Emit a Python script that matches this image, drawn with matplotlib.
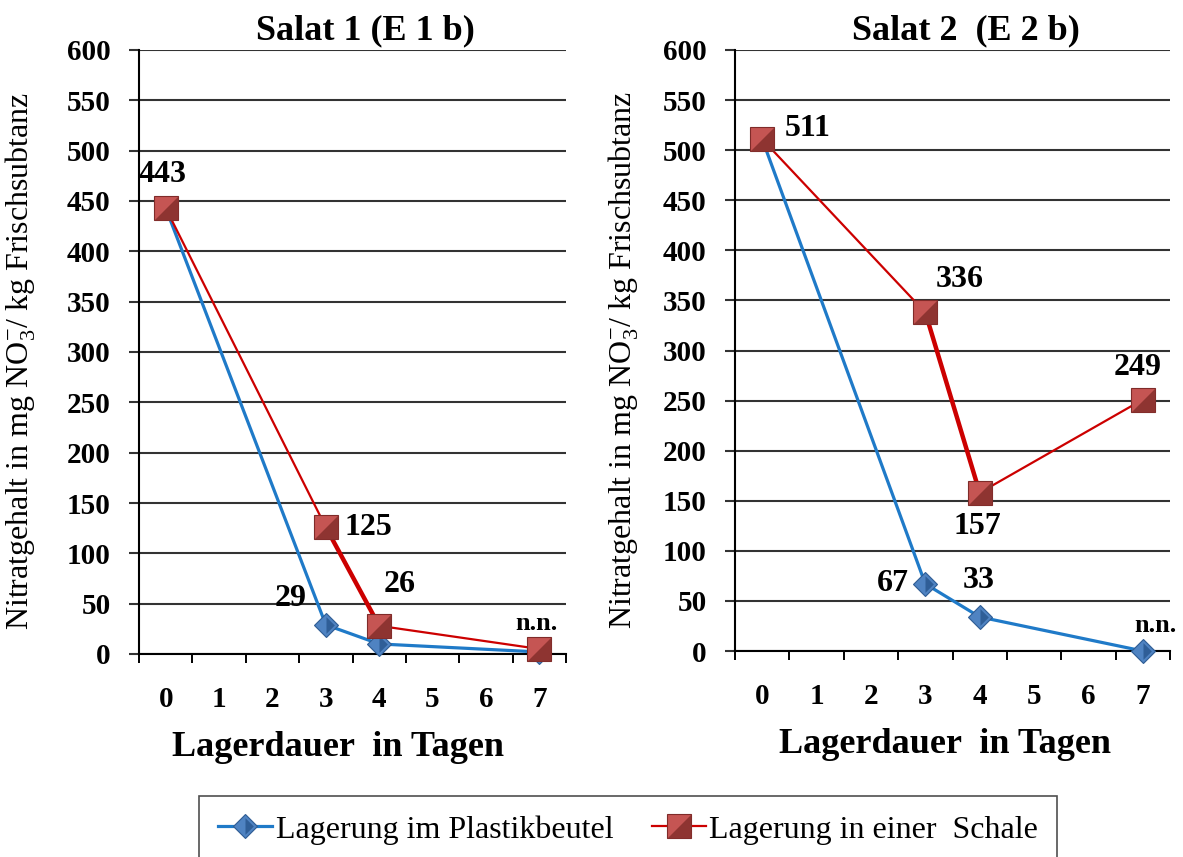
import matplotlib
matplotlib.use('Agg')
import matplotlib.pyplot as plt
import numpy as np
from matplotlib.path import Path
from matplotlib.legend_handler import HandlerTuple

# ---------------- data ----------------
categories = [0, 1, 2, 3, 4, 5, 6, 7]
tage = [0, 3, 4, 7]

s1_plastik = [443, 29, 10, 2]
s1_schale = [443, 126, 28, 5]
s2_plastik = [511, 67, 34, 0]
s2_schale = [511, 338, 158, 251]

s1_plastik_labels = [None, '29', None, None]
s1_schale_labels = ['443', '125', '26', 'n.n.']
s2_plastik_labels = [None, '67', '33', 'n.n.']
s2_schale_labels = ['511', '336', '157', '249']

titles = ['Salat 1 (E 1 b)', 'Salat 2  (E 2 b)']
xlabel = 'Lagerdauer  in Tagen'
ylabel = r'Nitratgehalt in mg NO$_3^{-}$/ kg Frischsubtanz'
legend_labels = ['Lagerung im Plastikbeutel', 'Lagerung in einer  Schale']
yticks = list(range(0, 601, 50))

# ---------------- style ----------------
plt.rcParams['font.family'] = ['Liberation Serif', 'DejaVu Serif']
plt.rcParams['mathtext.fontset'] = 'custom'
plt.rcParams['mathtext.rm'] = 'Liberation Serif'
plt.rcParams['mathtext.it'] = 'Liberation Serif:italic'
plt.rcParams['mathtext.bf'] = 'Liberation Serif:bold'

W, H = 1183, 857
fig = plt.figure(figsize=(W / 100, H / 100), dpi=100)

blue_line = '#1F7AC8'
red_line = '#CC0000'
grid_col = '#333333'

# half-marker paths for the "pyramid" look
tri_dark = Path([(1, 1), (1, -1), (-1, -1), (1, 1)], closed=False)
dia_dark = Path([(0, -1), (1, 0), (0, 1), (0, -1)], closed=False)

ax_boxes = [
    [139 / W, 1 - 654 / H, 427 / W, 604 / H],
    [735 / W, 1 - 651 / H, 435 / W, 601 / H],
]

series = [
    (s1_plastik, s1_schale, s1_plastik_labels, s1_schale_labels),
    (s2_plastik, s2_schale, s2_plastik_labels, s2_schale_labels),
]

# label offsets in points (per panel, per series, per point)
offs = [
    ([None, (-25, 19), None, None],
     [(-2, 24), (31, 0), (15, 30), (-2, 18)]),
    ([None, (-23, 0), (-1, 26), (9, 18)],
     [(33, 8), (25, 24), (-2, -24), (-4, 23)]),
]

ylabel_x = [-0.237, -0.216]
xlabel_x = [0.466, 0.483]

TICK_FS = 21
DATA_FS = 23

handles = None
for i, ax_box in enumerate(ax_boxes):
    ax = fig.add_axes(ax_box)
    plast, schale, plab, slab = series[i]

    # blue series
    lb, = ax.plot(tage, plast, color=blue_line, lw=2.3, zorder=3,
                  marker='D', ms=12, mfc='#4F83C2', mec='#2E5C93', mew=0.8,
                  clip_on=False)
    ob, = ax.plot(tage, plast, ls='none', marker=dia_dark, ms=12,
                  mfc='#2F5E97', mec='none', zorder=3.1, clip_on=False)
    # red series
    lr, = ax.plot(tage, schale, color=red_line, lw=1.6, zorder=4,
                  marker='s', ms=17, mfc='#C55553', mec='#7F2B29', mew=0.8,
                  clip_on=False)
    ax.plot(tage[1:3], schale[1:3], color=red_line, lw=3.2, zorder=3.9,
            solid_capstyle='round')
    orr, = ax.plot(tage, schale, ls='none', marker=tri_dark, ms=17,
                   mfc='#8E3431', mec='none', zorder=4.1, clip_on=False)
    if handles is None:
        handles = [(lb, ob), (lr, orr)]

    for vals, labs, off in ((plast, plab, offs[i][0]), (schale, slab, offs[i][1])):
        for x, y, t, o in zip(tage, vals, labs, off):
            if t is None:
                continue
            ax.annotate(t, (x, y), xytext=o, textcoords='offset points',
                        ha='center', va='center', fontweight='bold',
                        fontsize=19 if t == 'n.n.' else DATA_FS, zorder=6,
                        annotation_clip=False)

    ax.set_xlim(-0.5, 7.5)
    ax.set_ylim(0, 600)
    ax.set_yticks(yticks)
    ax.yaxis.grid(True, color=grid_col, lw=1.5)
    ax.set_axisbelow(True)
    ax.tick_params(axis='y', direction='out', length=7.5, width=1.5,
                   color=grid_col, pad=13, labelsize=TICK_FS)
    for lab in ax.get_yticklabels():
        lab.set_fontweight('bold')

    ax.set_xticks(np.arange(-0.5, 8, 1))
    ax.set_xticklabels([])
    ax.tick_params(axis='x', which='major', direction='out', length=6.5,
                   width=1.4, color='black')
    ax.set_xticks(categories, minor=True)
    ax.set_xticklabels([str(c) for c in categories], minor=True,
                       fontweight='bold', fontsize=TICK_FS)
    ax.tick_params(axis='x', which='minor', length=0, pad=23)

    for s in ['top', 'right']:
        ax.spines[s].set_visible(False)
    ax.spines['left'].set_linewidth(1.5)
    ax.spines['bottom'].set_linewidth(1.5)
    ax.spines['left'].set_color('black')
    ax.spines['bottom'].set_color('black')

    ax.set_title(titles[i], fontsize=26, fontweight='bold', x=0.53, pad=8)
    ax.set_xlabel(xlabel, fontsize=26, fontweight='bold')
    ax.xaxis.set_label_coords(xlabel_x[i], -0.128)
    ax.set_ylabel(ylabel, fontsize=23)
    ax.yaxis.set_label_coords(ylabel_x[i], 0.485)

leg = fig.legend(handles, legend_labels,
                 handler_map={tuple: HandlerTuple(ndivide=1)},
                 loc='upper center', bbox_to_anchor=(628 / W, 1 - 796 / H),
                 ncol=2, fontsize=23, frameon=True, fancybox=False,
                 edgecolor='#222222', borderpad=0.6, handlelength=1.7,
                 handletextpad=0.1, columnspacing=1.2, borderaxespad=0)
leg.get_frame().set_linewidth(1.2)

fig.savefig('out.png', dpi=100)
